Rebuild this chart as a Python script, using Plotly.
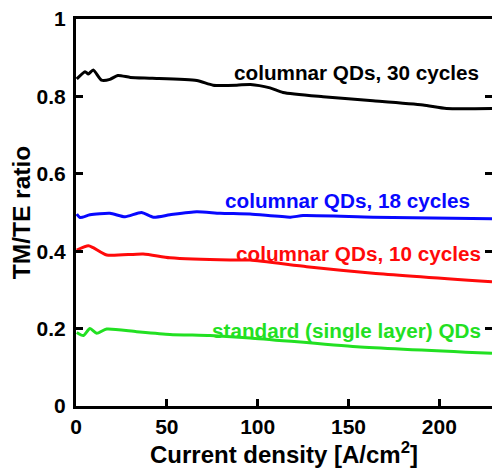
import plotly.graph_objects as go

# Data
x_30 = [0.4, 5, 6.8, 9.5, 14, 18.7, 23, 30, 42, 66.5, 75.5, 88.5, 96, 106.8, 114, 136, 163.5, 191, 204, 229]
y_30 = [0.845, 0.864, 0.858, 0.868, 0.842, 0.844, 0.854, 0.849, 0.847, 0.841, 0.829, 0.829, 0.831, 0.822, 0.81, 0.799, 0.789, 0.778, 0.769, 0.769]

x_18 = [0.4, 2.2, 7.7, 18.7, 27, 36, 42.6, 51.7, 66.4, 79.3, 95.8, 118, 125, 163.5, 229]
y_18 = [0.496, 0.487, 0.494, 0.498, 0.489, 0.5, 0.488, 0.494, 0.502, 0.498, 0.496, 0.488, 0.492, 0.488, 0.484]

x_10 = [0.4, 6.8, 9.5, 16.9, 37, 51.7, 84.8, 95.8, 127, 163.5, 229]
y_10 = [0.403, 0.414, 0.409, 0.39, 0.393, 0.383, 0.377, 0.377, 0.36, 0.343, 0.321]

x_sl = [0.4, 4, 7.7, 11.4, 16.9, 33.4, 51.7, 73.8, 95.8, 154.5, 229]
y_sl = [0.19, 0.182, 0.2, 0.188, 0.199, 0.192, 0.185, 0.182, 0.176, 0.153, 0.136]

labels = ["columnar QDs, 30 cycles", "columnar QDs, 18 cycles",
          "columnar QDs, 10 cycles", "standard (single layer) QDs"]
label_x = [223, 218, 224, 224]
label_y = [0.863, 0.532, 0.395, 0.196]
colors = ["#000000", "#0808ff", "#ff0a0a", "#22e022"]

x_ticks = [0, 50, 100, 150, 200]
y_ticks = [0, 0.2, 0.4, 0.6, 0.8, 1]
y_ticktext = ["0", "0.2", "0.4", "0.6", "0.8", "1"]

FONT = "Liberation Sans, Arial, sans-serif"

fig = go.Figure()
for xs, ys, c in zip([x_30, x_18, x_10, x_sl], [y_30, y_18, y_10, y_sl], colors):
    fig.add_trace(go.Scatter(x=xs, y=ys, mode="lines",
                             line=dict(color=c, width=3, shape="spline", smoothing=0.6),
                             showlegend=False, hoverinfo="skip"))

for t, lx, ly, c in zip(labels, label_x, label_y, colors):
    fig.add_annotation(x=lx, y=ly, text=t, showarrow=False, xanchor="right",
                       yanchor="middle",
                       font=dict(family=FONT, size=20.7, color=c, weight="bold"))

fig.update_layout(
    width=492, height=472,
    margin=dict(l=76, r=0, t=19, b=66),
    paper_bgcolor="white", plot_bgcolor="white",
    font=dict(family=FONT, color="black", weight="bold"),
)
fig.update_xaxes(
    range=[0, 229], tickvals=x_ticks, ticks="inside", ticklen=7, tickwidth=3,
    tickcolor="black", showline=True, linewidth=3, linecolor="black",
    mirror=True, showgrid=False, zeroline=False, automargin=False,
    tickfont=dict(family=FONT, size=21, weight="bold"),
    title=dict(text="Current density [A/cm<sup>2</sup>]", standoff=0,
               font=dict(family=FONT, size=24, weight="bold")),
)
fig.update_yaxes(
    range=[0, 1], tickvals=y_ticks, ticktext=y_ticktext, ticks="inside",
    ticklen=7, tickwidth=3, tickcolor="black", showline=True, linewidth=3,
    linecolor="black", mirror="ticks", showgrid=False, zeroline=False,
    automargin=False, ticklabelstandoff=3,
    tickfont=dict(family=FONT, size=21, weight="bold"),
    title=dict(text="TM/TE ratio", standoff=0,
               font=dict(family=FONT, size=24.5, weight="bold")),
)

fig.write_html("out.html", config={"displayModeBar": False},
               post_script="document.body.style.margin='0';document.body.style.overflow='hidden';")
